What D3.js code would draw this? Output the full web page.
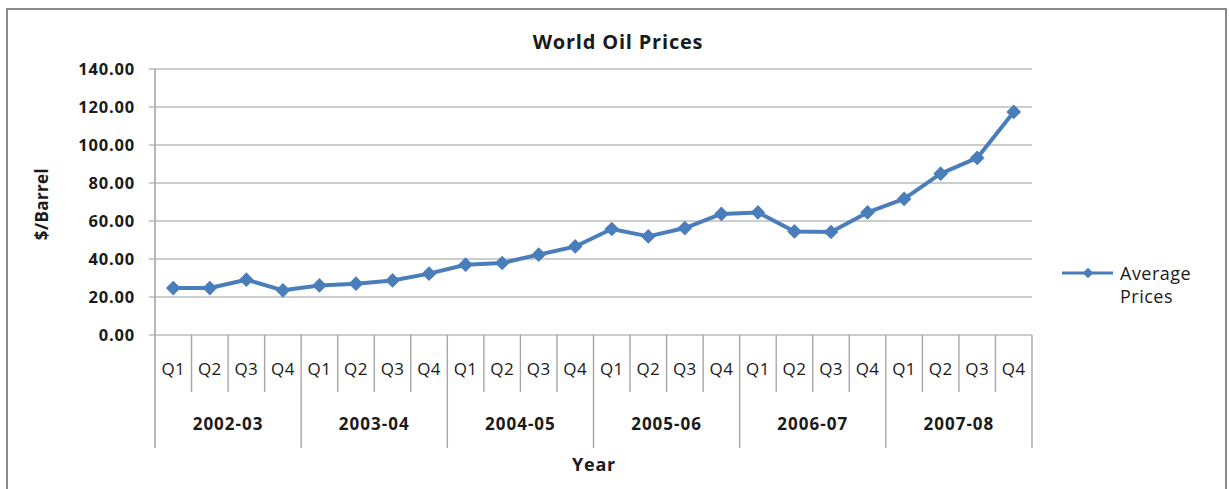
<!DOCTYPE html>
<html><head><meta charset="utf-8">
<script src="https://cdn.jsdelivr.net/npm/d3@7/dist/d3.min.js"></script>
<style>
body{margin:0;background:#fff;}
text{font-family:"Open Sans",sans-serif;fill:#1a1a1a;}
</style></head>
<body>
<svg id="chart" width="1229" height="489"></svg>
<script>
const title = "World Oil Prices";
const yTitle = "$/Barrel";
const xTitle = "Year";
const seriesName = ["Average", "Prices"];
const years = ["2002-03","2003-04","2004-05","2005-06","2006-07","2007-08"];
const quarters = ["Q1","Q2","Q3","Q4"];
const prices = [24.7,24.7,29.1,23.5, 26.1,27.0,28.7,32.3, 37.0,37.9,42.3,46.6,
                55.8,51.9,56.3,63.7, 64.5,54.5,54.2,64.5, 71.6,84.9,93.2,117.4];
const yTicks = [0,20,40,60,80,100,120,140];

const svg = d3.select("#chart");
const L = 155, R = 1032, T = 69, B = 335;
const qBottom = 392, yrBottom = 448;
const blue = "#4a7ebb", grid = "#bdbdbd", axisC = "#a6a6a6";

// frame
svg.append("rect").attr("x",7).attr("y",9).attr("width",1219).attr("height",490)
  .attr("fill","none").attr("stroke","#8a8a8a").attr("stroke-width",2);

const idx = d3.range(prices.length);
const x = d3.scaleBand().domain(idx).range([L,R]).padding(0);
const y = d3.scaleLinear().domain([0,140]).range([B,T]);

// gridlines
svg.append("g").selectAll("line").data(yTicks).join("line")
  .attr("x1",L-6).attr("x2",R).attr("y1",d=>y(d)).attr("y2",d=>y(d))
  .attr("stroke",grid).attr("stroke-width",1.6);

// y axis
const yAxis = d3.axisLeft(y).tickValues(yTicks).tickFormat(d3.format(".2f")).tickSize(0).tickPadding(20);
const gy = svg.append("g").attr("transform",`translate(${L},0)`).call(yAxis);
gy.select(".domain").remove();
gy.selectAll("text").attr("font-size",16.5).attr("font-weight","bold").attr("fill","#1a1a1a")
  .attr("letter-spacing",0.8).style("font-family","'Open Sans',sans-serif");

// left axis line
svg.append("line").attr("x1",L).attr("x2",L).attr("y1",T).attr("y2",yrBottom)
  .attr("stroke",axisC).attr("stroke-width",1.6);

// category dividers
const bounds = d3.range(1, prices.length+1);
svg.append("g").selectAll("line").data(bounds).join("line")
  .attr("x1",d=>L + d*x.bandwidth()).attr("x2",d=>L + d*x.bandwidth())
  .attr("y1",B).attr("y2",d=> d%4===0 ? yrBottom : qBottom)
  .attr("stroke",axisC).attr("stroke-width",1.4);

// quarter labels
svg.append("g").selectAll("text").data(idx).join("text")
  .attr("x",d=>x(d)+x.bandwidth()/2).attr("y",375)
  .attr("text-anchor","middle").attr("font-size",17).attr("letter-spacing",0.4)
  .text(d=>quarters[d%4]);

// year labels
svg.append("g").selectAll("text").data(years).join("text")
  .attr("x",(d,i)=>x(i*4) + 2*x.bandwidth()).attr("y",430)
  .attr("text-anchor","middle").attr("font-size",17).attr("font-weight","bold")
  .attr("letter-spacing",1)
  .text(d=>d);

// axis titles
svg.append("text").attr("x",594).attr("y",471).attr("text-anchor","middle")
  .attr("font-size",18).attr("font-weight","bold").attr("letter-spacing",0.8).text(xTitle);
svg.append("text").attr("transform","translate(48,204) rotate(-90)").attr("text-anchor","middle")
  .attr("font-size",17).attr("font-weight","bold").attr("letter-spacing",0.4).text(yTitle);
svg.append("text").attr("x",618).attr("y",49).attr("text-anchor","middle")
  .attr("font-size",20).attr("font-weight","bold").attr("letter-spacing",0.8).text(title);

// series line
const line = d3.line().x((d,i)=>x(i)+x.bandwidth()/2).y(d=>y(d));
svg.append("path").datum(prices).attr("d",line).attr("fill","none")
  .attr("stroke",blue).attr("stroke-width",4).attr("stroke-linejoin","round");
const sym = d3.symbol().type(d3.symbolSquare).size(108);
svg.append("g").selectAll("path").data(prices).join("path")
  .attr("d",sym)
  .attr("transform",(d,i)=>`translate(${x(i)+x.bandwidth()/2},${y(d)}) rotate(45)`)
  .attr("fill",blue);

// legend
const lg = svg.append("g");
lg.append("line").attr("x1",1062).attr("x2",1113).attr("y1",273).attr("y2",273)
  .attr("stroke",blue).attr("stroke-width",3);
lg.append("path").attr("d",d3.symbol().type(d3.symbolSquare).size(56)())
  .attr("transform","translate(1088,273) rotate(45)").attr("fill",blue);
lg.selectAll("text").data(seriesName).join("text")
  .attr("x",1120).attr("y",(d,i)=>280+i*23).attr("font-size",18).attr("letter-spacing",0.5).text(d=>d);
</script>
</body></html>
